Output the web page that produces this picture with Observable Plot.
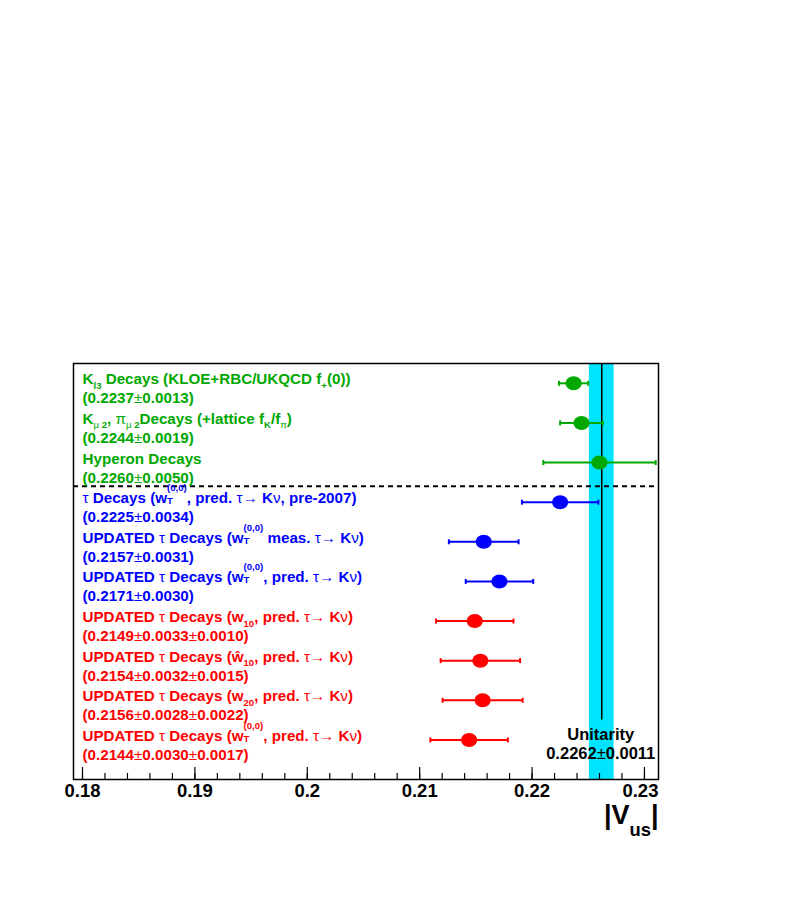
<!DOCTYPE html>
<html>
<head>
<meta charset="utf-8">
<script src="https://cdn.jsdelivr.net/npm/d3@7"></script>
<script src="https://cdn.jsdelivr.net/npm/@observablehq/plot@0.6"></script>
<style>
  html, body { margin: 0; padding: 0; background: #fff; }
  svg { display: block; }
</style>
</head>
<body>
<div id="chart"></div>
<script>
// ---- data ----
const titles = [
  "K_{l3} Decays (KLOE+RBC/UKQCD f_{+}(0))",
  "K_{μ 2}, π_{μ 2}Decays (+lattice f_{K}/f_{π})",
  "Hyperon Decays",
  "τ Decays (w^{(0,0)}_{T}, pred. τ→ Kν, pre-2007)",
  "UPDATED τ Decays (w^{(0,0)}_{T} meas. τ→ Kν)",
  "UPDATED τ Decays (w^{(0,0)}_{T}, pred. τ→ Kν)",
  "UPDATED τ Decays (w_{10}, pred. τ→ Kν)",
  "UPDATED τ Decays (ŵ_{10}, pred. τ→ Kν)",
  "UPDATED τ Decays (w_{20}, pred. τ→ Kν)",
  "UPDATED τ Decays (w^{(0,0)}_{T}, pred. τ→ Kν)"
];
const values  = [0.2237, 0.2244, 0.2260, 0.2225, 0.2157, 0.2171, 0.2149, 0.2154, 0.2156, 0.2144];
const statErr = [0.0013, 0.0019, 0.0050, 0.0034, 0.0031, 0.0030, 0.0033, 0.0032, 0.0028, 0.0030];
const systErr = [null, null, null, null, null, null, 0.0010, 0.0015, 0.0022, 0.0017];
const groups  = ["kaon/hyperon", "kaon/hyperon", "kaon/hyperon",
                 "tau w_T", "tau w_T", "tau w_T",
                 "tau moments", "tau moments", "tau moments", "tau moments"];
const groupNames = ["kaon/hyperon", "tau w_T", "tau moments"];
const unitarityValue = 0.2262;
const unitarityErr = 0.0011;
const majorTicks = [0.18, 0.19, 0.20, 0.21, 0.22, 0.23];
const xTickLabels = ["0.18", "0.19", "0.2", "0.21", "0.22", "0.23"];
const minorTicks = [0.18, 0.182, 0.184, 0.186, 0.188, 0.19, 0.192, 0.194, 0.196, 0.198,
                    0.20, 0.202, 0.204, 0.206, 0.208, 0.21, 0.212, 0.214, 0.216, 0.218,
                    0.22, 0.222, 0.224, 0.226, 0.228, 0.23];
const axisTitle = "|V_{us}|";

// ---- derived table ----
const fmt = v => v.toFixed(4);
const rows = values.map((v, i) => {
  const total = systErr[i] == null ? statErr[i] : Math.hypot(statErr[i], systErr[i]);
  return {
    i, value: v, group: groups[i], title: titles[i],
    lo: v - total, hi: v + total,
    summary: "(" + fmt(v) + "±" + fmt(statErr[i]) + (systErr[i] == null ? "" : "±" + fmt(systErr[i])) + ")"
  };
});
const n = rows.length;
const unit = [{value: unitarityValue, lo: unitarityValue - unitarityErr, hi: unitarityValue + unitarityErr}];

// ---- layout / styles ----
const W = 790, H = 899, mT = 363, mB = 120, mL = 73, mR = 132;
const frameH = H - mT - mB;
const ellipse = {draw(ctx) {
  const rx = 8, ry = 7, k = 0.5523;
  ctx.moveTo(rx, 0);
  ctx.bezierCurveTo(rx, ry * k, rx * k, ry, 0, ry);
  ctx.bezierCurveTo(-rx * k, ry, -rx, ry * k, -rx, 0);
  ctx.bezierCurveTo(-rx, -ry * k, -rx * k, -ry, 0, -ry);
  ctx.bezierCurveTo(rx * k, -ry, rx, -ry * k, rx, 0);
  ctx.closePath();
}};
const cap = {draw(ctx) { ctx.moveTo(0, -2.5); ctx.lineTo(0, 2.5); }};
const FONT = "'Liberation Sans', Arial, Helvetica, sans-serif";

const plot = Plot.plot({
  width: W, height: H,
  marginLeft: mL, marginRight: mR, marginTop: mT, marginBottom: mB,
  style: {fontFamily: FONT, background: "#fff", overflow: "visible"},
  x: {domain: [0.1792, 0.23125], axis: null},
  y: {domain: [-0.5, 10], reverse: true, axis: null},
  color: {domain: groupNames, range: ["#00a800", "#0000ff", "#ff0000"]},
  marks: [
    Plot.rect(unit, {x1: "lo", x2: "hi", fill: "#00e5ff"}),
    Plot.ruleX(unit, {x: "value", y1: -0.5, y2: n - 1.5, stroke: "black", strokeWidth: 1.5}),
    Plot.ruleY([2.5], {dy: 4, stroke: "black", strokeWidth: 2, strokeDasharray: "5,4"}),
    Plot.ruleY(rows, {y: "i", x1: "lo", x2: "hi", stroke: "group", strokeWidth: 2}),
    Plot.dot(rows, {x: "lo", y: "i", symbol: cap, fill: "none", stroke: "group", strokeWidth: 2}),
    Plot.dot(rows, {x: "hi", y: "i", symbol: cap, fill: "none", stroke: "group", strokeWidth: 2}),
    Plot.dot(rows, {x: "value", y: "i", symbol: ellipse, fill: "group", stroke: "none"}),
    Plot.text(rows, {y: "i", text: "title", fill: "group", frameAnchor: "left", dx: 9, dy: 1,
      textAnchor: "start", lineAnchor: "bottom", fontSize: 15.2, fontWeight: "bold"}),
    Plot.text(rows, {y: "i", text: "summary", fill: "group", frameAnchor: "left", dx: 9, dy: 20,
      textAnchor: "start", lineAnchor: "bottom", fontSize: 15.2, fontWeight: "bold"}),
    Plot.text(unit, {x: "value", y: () => n - 1, text: () => "Unitarity", dx: -1, dy: 0,
      textAnchor: "middle", lineAnchor: "bottom", fontSize: 16.5, fontWeight: "bold", fill: "black"}),
    Plot.text(unit, {x: "value", y: () => n - 1, text: d => fmt(d.value) + "±" + fmt(unitarityErr), dx: -1, dy: 19,
      textAnchor: "middle", lineAnchor: "bottom", fontSize: 16.5, fontWeight: "bold", fill: "black"}),
    Plot.frame({stroke: "black", strokeWidth: 1.5}),
    // inward ticks on the bottom axis (minor and major)
    Plot.ruleX(minorTicks, {x: d => d, insetTop: frameH - 6, stroke: "black", strokeWidth: 1.2}),
    Plot.ruleX(majorTicks, {x: d => d, insetTop: frameH - 12, stroke: "black", strokeWidth: 1.2}),
    Plot.axisX(majorTicks, {anchor: "bottom", tickSize: 0, tickPadding: 4, fill: "black",
      tickFormat: d => xTickLabels[majorTicks.indexOf(d)], fontSize: 18.5, fontWeight: "bold", label: null}),
    Plot.text([axisTitle], {text: d => d, frameAnchor: "bottom-right", textAnchor: "end", lineAnchor: "bottom",
      dy: 44, fontSize: 27, fontWeight: "bold", fill: "black"})
  ]
});
document.getElementById("chart").appendChild(plot);

// ---- rich text (sub/superscripts, non-bold greek) ----
function parseMarkup(s) {
  const out = []; let buf = ""; let i = 0;
  const flush = () => { if (buf) out.push({t: buf, k: "n"}); buf = ""; };
  while (i < s.length) {
    const c = s[i];
    if ((c === "_" || c === "^") && s[i + 1] === "{") {
      const j = s.indexOf("}", i + 2);
      flush();
      out.push({t: s.slice(i + 2, j), k: c === "_" ? "sub" : "sup"});
      i = j + 1;
    } else { buf += c; i++; }
  }
  flush();
  return out;
}
const GREEK = /[τνμπ±→]/;
const mctx = document.createElement("canvas").getContext("2d");
function measure(str, size, weight) {
  mctx.font = weight + " " + size + "px 'Liberation Sans', Arial, sans-serif";
  return mctx.measureText(str).width;
}
function richify(el, o) {
  const fs = parseFloat(getComputedStyle(el).fontSize);
  const segs = parseMarkup(el.textContent);
  while (el.firstChild) el.removeChild(el.firstChild);
  const ns = "http://www.w3.org/2000/svg";
  let cur = 0;
  function addRun(str, size, shift, dx) {
    const parts = str.match(/[τνμπ±→]+|[^τνμπ±→]+/g) || [];
    let w = 0;
    parts.forEach((p, k) => {
      const t = document.createElementNS(ns, "tspan");
      t.textContent = p;
      if (k === 0 && Math.abs(shift - cur) > 1e-6) { t.setAttribute("dy", (shift - cur).toFixed(2)); cur = shift; }
      if (k === 0 && dx) t.setAttribute("dx", dx.toFixed(2));
      if (size !== fs) t.setAttribute("font-size", size.toFixed(2));
      const g = GREEK.test(p);
      if (g) t.setAttribute("font-weight", "normal");
      w += measure(p, size, g ? "normal" : "bold");
      el.appendChild(t);
    });
    return w;
  }
  for (let s = 0; s < segs.length; s++) {
    const g = segs[s];
    if (g.k === "n") addRun(g.t, fs, 0);
    else if (g.k === "sup" && segs[s + 1] && segs[s + 1].k === "sub") {
      const w = addRun(segs[s + 1].t, fs * o.small, fs * o.stackSub);
      addRun(g.t, fs * o.small, -fs * o.sup, -w);
      s++;
    } else if (g.k === "sub") addRun(g.t, fs * o.small, fs * o.sub);
    else addRun(g.t, fs * o.small, -fs * o.sup);
  }
}
const svg = document.querySelector("#chart svg");
svg.querySelectorAll("text").forEach(el => {
  const s = el.textContent;
  if (s === axisTitle) richify(el, {small: 0.68, sub: 0.46, sup: 0.6, stackSub: 0.1});
  else if (/[_^]\{|[τνμπ±→]/.test(s)) richify(el, {small: 0.63, sub: 0.3, sup: 0.8, stackSub: 0.07});
  if (s === "0.23") { el.setAttribute("text-anchor", "end"); el.setAttribute("dx", "14"); }
});
</script>
</body>
</html>
